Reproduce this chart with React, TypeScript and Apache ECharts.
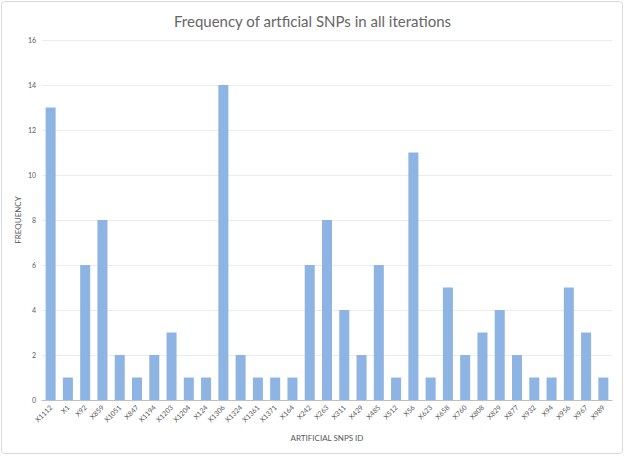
import React, { useEffect, useRef } from "react";
import * as echarts from "echarts";

const categories = ["X1112","X1","X92","X859","X1051","X847","X1194","X1203","X1204","X124","X1306","X1324","X1361","X1371","X164","X242","X263","X311","X429","X485","X512","X56","X623","X658","X760","X808","X829","X877","X932","X94","X956","X967","X989"];
const frequency = [13,1,6,8,2,1,2,3,1,1,14,2,1,1,1,6,8,4,2,6,1,11,1,5,2,3,4,2,1,1,5,3,1];

export default function App() {
  const ref = useRef<HTMLDivElement>(null);
  useEffect(() => {
    const chart = echarts.init(ref.current!, null, { renderer: "svg" });
    chart.setOption({
      animation: false,
      backgroundColor: "#ffffff",
      title: {
        text: "Frequency of artficial SNPs in all iterations",
        left: "center",
        top: 8,
        textStyle: { fontFamily: "Lato", fontSize: 15, fontWeight: "normal", color: "#666666" },
      },
      graphic: [
        { type: "rect", shape: { x: 1.5, y: 1.5, width: 621, height: 452, r: 3 }, style: { fill: "none", stroke: "#d9d9d9", lineWidth: 1 }, silent: true },
      ],
      grid: { left: 42, right: 13, top: 40, bottom: 56 },
      xAxis: {
        type: "category",
        data: categories,
        name: "ARTIFICIAL SNPS ID",
        nameLocation: "middle",
        nameGap: 34,
        nameMoveOverlap: false,
        nameTextStyle: { fontFamily: "Lato", fontSize: 8, color: "#595959" },
        axisLine: { lineStyle: { color: "#bfbfbf" } },
        axisTick: { show: false },
        axisLabel: { rotate: 45, fontFamily: "Lato", fontSize: 7, color: "#595959", margin: 6, interval: 0 },
      },
      yAxis: {
        type: "value",
        min: 0,
        max: 16,
        interval: 2,
        name: "FREQUENCY",
        nameLocation: "middle",
        nameGap: 20,
        nameMoveOverlap: false,
        nameTextStyle: { fontFamily: "Lato", fontSize: 8, color: "#595959" },
        axisLine: { show: false },
        axisTick: { show: false },
        axisLabel: { fontFamily: "Lato", fontSize: 7, color: "#595959", margin: 6 },
        splitLine: { lineStyle: { color: "#ececec" } },
      },
      series: [
        {
          type: "bar",
          data: frequency,
          barCategoryGap: "42%",
          itemStyle: { color: "#8db4e2" },
        },
      ],
    });
    return () => chart.dispose();
  }, []);
  return <div ref={ref} style={{ position: "fixed", left: 0, top: 0, width: 625, height: 456 }} />;
}
